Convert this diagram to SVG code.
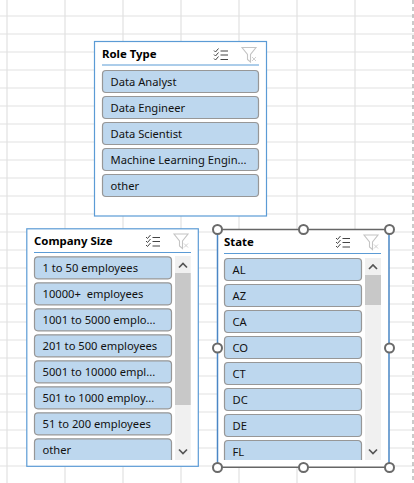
<svg xmlns="http://www.w3.org/2000/svg" xmlns:xlink="http://www.w3.org/1999/xlink" width="414" height="483" viewBox="0 0 414 483">
<style>
text{font-family:"Noto Sans","Open Sans","Liberation Sans",sans-serif;fill:#111}
.t{font-size:11.4px;font-weight:700;fill:#000}
.b{font-size:11.2px}
.btn{fill:#bdd7ee;stroke:#979797;stroke-width:1.2}
.panel{fill:#fff;stroke:#5b9bd5;stroke-width:1.2}
.hr{stroke:#5b9bd5;stroke-width:1.2;fill:none}
.grid{stroke:#e1e1e1;stroke-width:1.2;fill:none}
.track{fill:#f0f0f0}
.thumb{fill:#c8c8c8}
.arr{fill:none;stroke:#555;stroke-width:1.7}
.ic{fill:none;stroke:#444;stroke-width:1}
.fn{fill:none;stroke:#c4c4c4;stroke-width:1.1}
.h{fill:#fff;stroke:#6a6a6a;stroke-width:2}
.sel{stroke:#666;stroke-width:1.4;fill:none}
</style>
<defs>
<g id="icons">
<path class="ic" d="M0 1.500l1.500 1.500 3-3.500M0 5.500l1.500 1.500 3-3.500M0 9.500l1.500 1.500 3-3.500M6.500 2h7.500M6.500 6h7.500M6.500 10.500h7.500"/>
<path class="fn" d="M28 -1.500h14l-5.500 7v7.500l-3 -2.500v-5z"/>
<path d="M38 8l4 4M42 8l-4 4" fill="none" stroke="#cfcfcf" stroke-width="1"/>
</g>
</defs>
<rect width="414" height="483" fill="#fff"/>
<g id="grid">
<path class="grid" d="M0 16H414M0 34H414M0 52H414M0 70H414M0 88H414M0 106H414M0 124H414M0 142H414M0 160H414M0 178H414M0 196H414M0 214H414M0 232H414M0 250H414M0 268H414M0 286H414M0 304H414M0 322H414M0 340H414M0 358H414M0 376H414M0 394H414M0 412H414M0 430H414M0 448H414M0 466H414"/>
<path class="grid" d="M7 0V483M65 0V483M123 0V483M181 0V483M239 0V483M297 0V483M355 0V483"/>
<path d="M413 0V483" stroke="#a8a8a8" stroke-width="1.2" stroke-dasharray="4 3" fill="none"/>
</g>
<g id="role-type">
<rect class="panel" x="94.500" y="41.500" width="172" height="174.500"/>
<text class="t" x="102" y="58">Role Type</text>
<use xlink:href="#icons" x="214" y="49"/>
<path class="hr" d="M102 65H259"/>
<rect class="btn" x="102.500" y="70.500" width="156" height="22" rx="3.500"/><text class="b" x="110.500" y="86">Data Analyst</text>
<rect class="btn" x="102.500" y="96.500" width="156" height="22" rx="3.500"/><text class="b" x="110.500" y="112">Data Engineer</text>
<rect class="btn" x="102.500" y="122.500" width="156" height="22" rx="3.500"/><text class="b" x="110.500" y="138">Data Scientist</text>
<rect class="btn" x="102.500" y="148.500" width="156" height="22" rx="3.500"/><text class="b" x="110.500" y="164">Machine Learning Engin...</text>
<rect class="btn" x="102.500" y="174.500" width="156" height="22" rx="3.500"/><text class="b" x="110.500" y="190">other</text>
</g>
<g id="company-size">
<rect class="panel" x="26.800" y="228.800" width="171.500" height="237.500"/>
<text class="t" x="34" y="245">Company Size</text>
<use xlink:href="#icons" x="146" y="235.500"/>
<path class="hr" d="M34 252.500H191"/>
<rect class="track" x="175" y="256" width="15.700" height="204"/>
<rect class="thumb" x="175" y="273" width="15.700" height="132"/>
<path class="arr" d="M179 267.500l4-4 4 4M179 449.500l4 4 4-4"/>
<rect class="btn" x="34.500" y="256.800" width="137" height="22" rx="3.500"/><text class="b" x="42.500" y="271.800">1 to 50 employees</text>
<rect class="btn" x="34.500" y="282.800" width="137" height="22" rx="3.500"/><text class="b" x="42.500" y="297.800">10000+&#160; employees</text>
<rect class="btn" x="34.500" y="308.800" width="137" height="22" rx="3.500"/><text class="b" x="42.500" y="323.800">1001 to 5000 emplo...</text>
<rect class="btn" x="34.500" y="334.800" width="137" height="22" rx="3.500"/><text class="b" x="42.500" y="349.800">201 to 500 employees</text>
<rect class="btn" x="34.500" y="360.800" width="137" height="22" rx="3.500"/><text class="b" x="42.500" y="375.800">5001 to 10000 empl...</text>
<rect class="btn" x="34.500" y="386.800" width="137" height="22" rx="3.500"/><text class="b" x="42.500" y="401.800">501 to 1000 employ...</text>
<rect class="btn" x="34.500" y="412.800" width="137" height="22" rx="3.500"/><text class="b" x="42.500" y="427.800">51 to 200 employees</text>
<path class="btn" d="M34.500 460V442.300a3.500 3.500 0 0 1 3.500-3.500H168a3.500 3.500 0 0 1 3.500 3.500V460"/><text class="b" x="42.500" y="453.800">other</text>
</g>
<g id="state">
<rect x="217.500" y="229.500" width="171.500" height="238" fill="#fff" stroke="none"/>
<path d="M217.500 229.500V467.500M389 229.500V467.500" stroke="#4a86c5" stroke-width="1.500" fill="none"/>
<path class="sel" d="M217.500 229.500H389M217.500 467.300H389"/>
<text class="t" x="224" y="246">State</text>
<use xlink:href="#icons" x="336" y="236.500"/>
<path class="hr" d="M224 253.500H381"/>
<rect class="track" x="365" y="258" width="16" height="202"/>
<rect class="thumb" x="365" y="275" width="16" height="30"/>
<path class="arr" d="M369 269l4-4 4 4M369 449.500l4 4 4-4"/>
<rect class="btn" x="224.500" y="258.500" width="137" height="22" rx="3.500"/><text class="b" x="232.500" y="274">AL</text>
<rect class="btn" x="224.500" y="284.500" width="137" height="22" rx="3.500"/><text class="b" x="232.500" y="300">AZ</text>
<rect class="btn" x="224.500" y="310.500" width="137" height="22" rx="3.500"/><text class="b" x="232.500" y="326">CA</text>
<rect class="btn" x="224.500" y="336.500" width="137" height="22" rx="3.500"/><text class="b" x="232.500" y="352">CO</text>
<rect class="btn" x="224.500" y="362.500" width="137" height="22" rx="3.500"/><text class="b" x="232.500" y="378">CT</text>
<rect class="btn" x="224.500" y="388.500" width="137" height="22" rx="3.500"/><text class="b" x="232.500" y="404">DC</text>
<rect class="btn" x="224.500" y="414.500" width="137" height="22" rx="3.500"/><text class="b" x="232.500" y="430">DE</text>
<path class="btn" d="M224.500 460V444a3.500 3.500 0 0 1 3.500-3.500H358a3.500 3.500 0 0 1 3.500 3.500V460"/><text class="b" x="232.500" y="456">FL</text>
<circle class="h" cx="217.500" cy="229.500" r="4.500"/>
<circle class="h" cx="303.500" cy="229.500" r="4.500"/>
<circle class="h" cx="389.500" cy="229.500" r="4.500"/>
<circle class="h" cx="217.500" cy="348" r="4.500"/>
<circle class="h" cx="389.500" cy="348" r="4.500"/>
<circle class="h" cx="217.500" cy="467.500" r="4.500"/>
<circle class="h" cx="303.500" cy="467.500" r="4.500"/>
<circle class="h" cx="389.500" cy="467.500" r="4.500"/>
</g>
</svg>
